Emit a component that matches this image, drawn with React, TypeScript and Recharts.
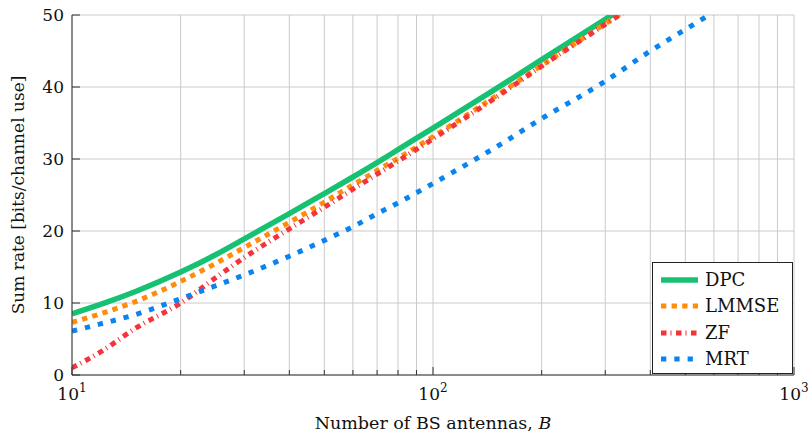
import React from 'react';
import { LineChart, Line, XAxis, YAxis, CartesianGrid, Legend } from 'recharts';

const FONT = '"DejaVu Serif", serif';

// number of BS antennas B (log axis)
const antennas = [10, 12, 15, 20, 25, 30, 40, 50, 60, 70, 80, 100, 150, 200, 300, 400, 500, 600];

// sum rate [bits/channel use]
const dpcRate = [8.5, 9.8, 11.6, 14.3, 16.7, 18.9, 22.4, 25.2, 27.5, 29.5, 31.3, 34.3, 39.8, 43.8, 49.4, 53.4, null, null];
const lmmseRate = [7.3, 8.5, 10.2, 13.0, 15.5, 17.7, 21.2, 24.0, 26.4, 28.4, 30.1, 33.1, 38.8, 43.0, 48.8, 52.9, null, null];
const zfRate = [1.0, 3.2, 6.5, 10.0, 13.5, 16.3, 20.3, 23.3, 25.8, 27.9, 29.7, 32.8, 38.6, 42.9, 48.7, 52.8, null, null];
const mrtRate = [6.1, 7.1, 8.4, 10.6, 12.4, 13.9, 16.5, 18.7, 20.6, 22.4, 23.9, 26.6, 31.7, 35.6, 40.8, 45.0, 48.0, 50.4];

const xTicks = [10, 20, 30, 40, 50, 60, 70, 80, 90, 100, 200, 300, 400, 500, 600, 700, 800, 900, 1000];
const xMajor = [10, 100, 1000];
const yTicks = [0, 10, 20, 30, 40, 50];

const series = [
  { key: 'dpc', name: 'DPC', color: '#16c172', width: 5.5, dash: undefined },
  { key: 'lmmse', name: 'LMMSE', color: '#ff8c0a', width: 5, dash: '5.3 5.3' },
  { key: 'zf', name: 'ZF', color: '#f5333b', width: 5, dash: '5.5 4 1 4.5' },
  { key: 'mrt', name: 'MRT', color: '#0a84f0', width: 5, dash: '5.3 8' },
];

const data = antennas.map((b, i) => ({
  b,
  dpc: dpcRate[i],
  lmmse: lmmseRate[i],
  zf: zfRate[i],
  mrt: mrtRate[i],
}));

const FRAME = '#333';

const BottomTick = ({ x, y, payload }: any) => {
  const major = xMajor.includes(payload.value);
  return (
    <g>
      <line x1={x} x2={x} y1={y} y2={y - (major ? 8 : 5)} stroke={FRAME} />
      {major && (
        <text x={x} y={y + 25} textAnchor="middle" fontSize={17} style={{ fontFamily: FONT }} fill="#111">
          10
          <tspan dy={-8} fontSize={12}>
            {Math.round(Math.log10(payload.value))}
          </tspan>
        </text>
      )}
    </g>
  );
};

const TopTick = ({ x, y, payload }: any) => {
  const major = xMajor.includes(payload.value);
  return <line x1={x} x2={x} y1={y} y2={y + (major ? 8 : 5)} stroke={FRAME} />;
};

const LeftTick = ({ x, y, payload }: any) => (
  <g>
    <line x1={x} x2={x + 8} y1={y} y2={y} stroke={FRAME} />
    <text x={x - 8} y={y} dy="0.35em" textAnchor="end" fontSize={17} style={{ fontFamily: FONT }} fill="#111">
      {payload.value}
    </text>
  </g>
);

const RightTick = ({ x, y }: any) => <line x1={x} x2={x - 8} y1={y} y2={y} stroke={FRAME} />;

const XTitle = ({ viewBox }: any) => (
  <text
    x={viewBox.x + viewBox.width / 2}
    y={viewBox.y + 54}
    textAnchor="middle"
    fontSize={17.5}
    style={{ fontFamily: FONT }}
    fill="#111"
  >
    Number of BS antennas, <tspan fontStyle="italic">B</tspan>
  </text>
);

const YTitle = ({ viewBox }: any) => {
  const cx = 24;
  const cy = viewBox.y + viewBox.height / 2;
  return (
    <text
      x={cx}
      y={cy}
      transform={`rotate(-90, ${cx}, ${cy})`}
      textAnchor="middle"
      fontSize={17}
      style={{ fontFamily: FONT }}
      fill="#111"
    >
      Sum rate [bits/channel use]
    </text>
  );
};

const LegendBox = () => (
  <div
    style={{
      width: 141,
      height: 112,
      border: '1px solid #222',
      background: '#fff',
      fontFamily: FONT,
      fontSize: 18,
      color: '#111',
      paddingTop: 4,
      boxSizing: 'border-box',
    }}
  >
    {series.map((s) => (
      <div key={s.key} style={{ display: 'flex', alignItems: 'center', height: 26.3 }}>
        <svg width={44} height={12} style={{ marginLeft: 8 }}>
          <line
            x1={0}
            x2={37}
            y1={6}
            y2={6}
            stroke={s.color}
            strokeWidth={s.width}
            strokeDasharray={s.dash}
          />
        </svg>
        <span style={{ lineHeight: 1 }}>{s.name}</span>
      </div>
    ))}
  </div>
);

export default function App() {
  return (
    <div style={{ position: 'absolute', left: 0, top: 0, background: '#fff' }}>
      <LineChart width={809} height={435} data={data} margin={{ top: 15, right: 15, left: 0, bottom: 0 }}>
        <CartesianGrid stroke="#cacaca" strokeWidth={1} />
        <XAxis
          dataKey="b"
          type="number"
          scale="log"
          domain={[10, 1000]}
          ticks={xTicks}
          allowDataOverflow
          height={60}
          tickSize={0}
          tickMargin={0}
          tickLine={false}
          axisLine={{ stroke: FRAME }}
          tick={BottomTick}
          interval={0}
          label={XTitle}
        />
        <XAxis
          xAxisId="top"
          orientation="top"
          type="number"
          scale="log"
          domain={[10, 1000]}
          ticks={xTicks}
          allowDataOverflow
          height={0}
          tickSize={0}
          tickMargin={0}
          tickLine={false}
          axisLine={{ stroke: FRAME }}
          tick={TopTick}
          interval={0}
        />
        <YAxis
          type="number"
          domain={[0, 50]}
          ticks={yTicks}
          allowDataOverflow
          width={72}
          tickSize={0}
          tickMargin={0}
          tickLine={false}
          axisLine={{ stroke: FRAME }}
          tick={LeftTick}
          interval={0}
          label={YTitle}
        />
        <YAxis
          yAxisId="right"
          orientation="right"
          type="number"
          domain={[0, 50]}
          ticks={yTicks}
          allowDataOverflow
          width={0}
          tickSize={0}
          tickMargin={0}
          tickLine={false}
          axisLine={{ stroke: FRAME }}
          tick={RightTick}
          interval={0}
        />
        {series.map((s) => (
          <Line
            key={s.key}
            dataKey={s.key}
            name={s.name}
            type="monotone"
            stroke={s.color}
            strokeWidth={s.width}
            strokeDasharray={s.dash}
            strokeLinecap="butt"
            dot={false}
            activeDot={false}
            isAnimationActive={false}
          />
        ))}
        <Legend
          layout="vertical"
          align="center"
          verticalAlign="middle"
          content={LegendBox}
          wrapperStyle={{ left: 652, top: 262, width: 141, height: 112 }}
        />
      </LineChart>
    </div>
  );
}
